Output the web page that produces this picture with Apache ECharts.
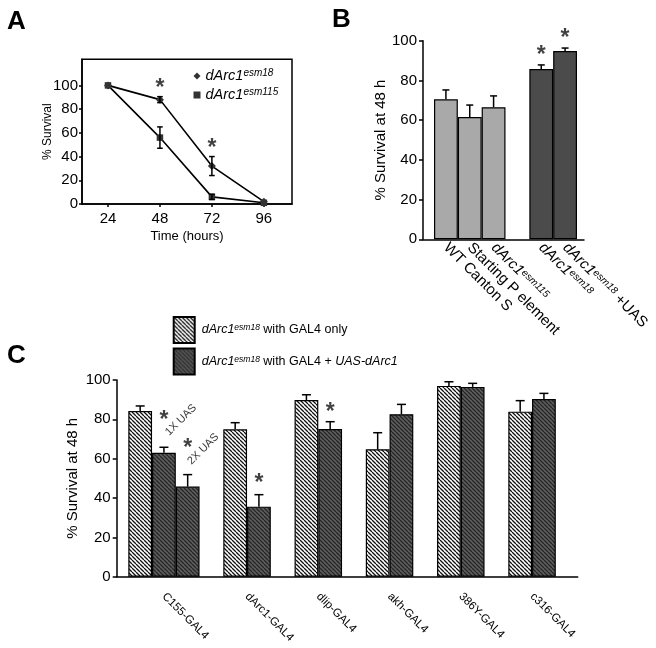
<!DOCTYPE html>
<html>
<head>
<meta charset="utf-8">
<script src="https://cdn.jsdelivr.net/npm/echarts@6/dist/echarts.min.js"></script>
<style>html,body{margin:0;padding:0;background:#fff}#c{width:656px;height:648px}</style>
</head>
<body>
<div id="c"></div>
<script>
// ---------- Panel A data ----------
const aTimes = [24, 48, 72, 96];
const aYTicks = [0, 20, 40, 60, 80, 100];
const aEsm18 = [100, 88, 32, 2];
const aEsm18Err = [0, 2.5, 8, 0];
const aEsm115 = [100, 56, 6, 1];
const aEsm115Err = [0, 9, 2.2, 0];
const aStars = [[48, 102], [72, 51]];

// ---------- Panel B data ----------
const bCats = ['WT Canton S', 'Starting P element', 'dArc1esm115', '', 'dArc1esm18', 'dArc1esm18 +UAS'];
const bValues = [70.5, 61.6, 66.5, null, 85.7, 94.8];
const bErr = [4.7, 6.0, 5.7, null, 2.1, 1.5];
const bTone = ['light', 'light', 'light', null, 'dark', 'dark'];
const bStars = [[4, 95], [5, 103.7]];

// ---------- Panel C data ----------
const cGroups = ['C155-GAL4', 'dArc1-GAL4', 'dlip-GAL4', 'akh-GAL4', '386Y-GAL4', 'c316-GAL4'];
const cOnly = [84.2, 74.9, 89.8, 64.8, 97.0, 83.9];
const cOnlyErr = [2.6, 3.4, 2.7, 8.4, 2.1, 5.6];
const cUAS = [[63.0, 45.8], [35.6], [75.1], [82.6], [96.5], [90.3]];
const cUASErr = [[2.8, 6.1], [6.1], [3.7], [5.0], [1.8], [2.9]];
const cStars = [[1, 82.2], [2, 67.8], [5, 50.0], [8, 86.4]];
const cNotes = [[1, 79.7, '1X UAS'], [2, 64.9, '2X UAS']];

// ---------- build C slots ----------
const cLight = [], cDark = [], cErrData = [], cSlotNames = [], cLabelAt = {};
let slot = 0;
cGroups.forEach((g, gi) => {
  const start = slot;
  cLight[slot] = cOnly[gi]; cDark[slot] = '-'; cErrData.push([slot, cOnly[gi], cOnlyErr[gi]]); slot++;
  cUAS[gi].forEach((v, k) => { cLight[slot] = '-'; cDark[slot] = v; cErrData.push([slot, v, cUASErr[gi][k]]); slot++; });
  const end = slot - 1;
  cLabelAt[start + end + 1] = g;
  if (gi < cGroups.length - 1) { cLight[slot] = '-'; cDark[slot] = '-'; slot++; }
});
const nSlots = slot;
for (let i = 0; i < nSlots; i++) cSlotNames.push('s' + i);
const cHalfNames = [];
for (let i = 0; i <= nSlots * 2; i++) cHalfNames.push('h' + i);

const FONT = '"Liberation Sans", Arial, sans-serif';
const axisLS = { color: '#000', width: 1.5 };

function hatch(bg, fg, size, lw) {
  const c = document.createElement('canvas');
  c.width = c.height = size;
  const g = c.getContext('2d');
  g.fillStyle = bg; g.fillRect(0, 0, size, size);
  g.strokeStyle = fg; g.lineWidth = lw;
  g.beginPath();
  [-size, 0, size].forEach(k => { g.moveTo(k, 0); g.lineTo(k + size, size); });
  g.stroke();
  return c;
}
const patLight = { image: hatch('#ffffff', '#111111', 4, 1.3), repeat: 'repeat' };
const patDark = { image: hatch('#5e5e5e', '#262626', 4, 1.3), repeat: 'repeat' };

function errItem(capHalf, both) {
  return function (params, api) {
    const x = api.value(0), y = api.value(1), e = api.value(2);
    const top = api.coord([x, y + e]);
    const bot = api.coord([x, both ? y - e : y]);
    const style = { stroke: '#000', lineWidth: 1.5 };
    const ch = [
      { type: 'line', shape: { x1: top[0], y1: top[1], x2: bot[0], y2: bot[1] }, style },
      { type: 'line', shape: { x1: top[0] - capHalf, y1: top[1], x2: top[0] + capHalf, y2: top[1] }, style }
    ];
    if (both) ch.push({ type: 'line', shape: { x1: bot[0] - capHalf, y1: bot[1], x2: bot[0] + capHalf, y2: bot[1] }, style });
    return { type: 'group', children: ch };
  };
}

function starSeries(data, xi, yi) {
  return {
    type: 'scatter', xAxisIndex: xi, yAxisIndex: yi, data: data, symbolSize: 1, clip: false,
    itemStyle: { color: 'transparent' }, z: 5, silent: true,
    label: { show: true, position: 'inside', formatter: '*', fontSize: 23, fontWeight: 'bold', color: '#111', fontFamily: FONT, offset: [0, 5.5] }
  };
}

const supRich = (main, sup) => ({
  i: { fontStyle: 'italic', fontSize: main, fontFamily: FONT, color: '#000' },
  s: { fontStyle: 'italic', fontSize: sup, fontFamily: FONT, color: '#000', verticalAlign: 'top' },
  n: { fontSize: main, fontFamily: FONT, color: '#000' }
});

function fmtDarc(v) {
  const m = /^dArc1(esm\d+)(.*)$/.exec(v);
  if (m) return '{i|dArc1}{s|' + m[1] + '}' + (m[2] ? '{n|' + m[2] + '}' : '');
  return v ? '{n|' + v + '}' : '';
}

const aErr = [];
aTimes.forEach((t, i) => {
  if (aEsm18Err[i] > 0) aErr.push([t, aEsm18[i], aEsm18Err[i]]);
  if (aEsm115Err[i] > 0) aErr.push([t, aEsm115[i], aEsm115Err[i]]);
});

const chart = echarts.init(document.getElementById('c'), null, { renderer: 'canvas' });
const option = {
  animation: false,
  backgroundColor: '#fff',
  textStyle: { fontFamily: FONT, color: '#000' },
  title: [
    { text: 'A', left: 7, top: 9, padding: 0, textStyle: { fontSize: 26, fontWeight: 'bold', fontFamily: FONT, color: '#000' } },
    { text: 'B', left: 332, top: 7, padding: 0, textStyle: { fontSize: 26, fontWeight: 'bold', fontFamily: FONT, color: '#000' } },
    { text: 'C', left: 7, top: 343, padding: 0, textStyle: { fontSize: 26, fontWeight: 'bold', fontFamily: FONT, color: '#000' } }
  ],
  legend: [
    {
      data: [{ name: 'esm18', icon: 'diamond' }, { name: 'esm115', icon: 'rect' }],
      orient: 'vertical', left: 193.5, top: 68, itemWidth: 7, itemHeight: 7, itemGap: 3, padding: 0,
      selectedMode: false,
      formatter: n => '{i|dArc1}{s|' + n + '}',
      textStyle: { rich: supRich(14.5, 10), lineHeight: 16 }
    },
    {
      data: [{ name: 'only', icon: 'rect' }, { name: 'uas', icon: 'rect' }],
      orient: 'vertical', left: 172.7, top: 316, itemWidth: 21, itemHeight: 26, itemGap: 3.5, padding: 0,
      selectedMode: false,
      formatter: n => n === 'only'
        ? '{p|}{i|dArc1}{s|esm18}{n| with GAL4 only}'
        : '{p|}{i|dArc1}{s|esm18}{n| with GAL4 + }{i|UAS-dArc1}',
      textStyle: { rich: Object.assign(supRich(12.5, 8.5), { p: { width: 2 } }) }
    }
  ],
  grid: [
    { left: 82, top: 59.3, width: 210, height: 144.7, show: true, borderColor: '#000', borderWidth: 1.5, outerBoundsMode: 'none' },
    { left: 434, top: 40.7, width: 143, height: 198.6, outerBoundsMode: 'none' },
    { left: 423, top: 40.7, width: 161, height: 198.6, outerBoundsMode: 'none' },
    { left: 128.3, top: 380, width: 427.5, height: 196.7, outerBoundsMode: 'none' },
    { left: 116.7, top: 380, width: 461, height: 196.7, outerBoundsMode: 'none' }
  ],
  xAxis: [
    { type: 'value', gridIndex: 0, min: 12, max: 109,
      axisLine: { show: true, onZero: false, lineStyle: axisLS },
      axisTick: { show: true, customValues: aTimes, length: 3, lineStyle: axisLS },
      axisLabel: { customValues: aTimes, fontSize: 15, margin: 7, color: '#000', fontFamily: FONT },
      splitLine: { show: false },
      name: 'Time (hours)', nameLocation: 'middle', nameGap: 26, nameMoveOverlap: false,
      nameTextStyle: { fontSize: 13, color: '#000', fontFamily: FONT } },
    { type: 'category', gridIndex: 1, data: bCats,
      axisLine: { show: false }, axisTick: { show: false },
      axisLabel: { interval: 0, rotate: -45, margin: 6, fontSize: 15, color: '#000', formatter: fmtDarc, rich: supRich(15, 10) },
      splitLine: { show: false } },
    { type: 'value', gridIndex: 2, min: 0, max: 1,
      axisLine: { show: true, onZero: false, lineStyle: axisLS }, axisTick: { show: false }, axisLabel: { show: false }, splitLine: { show: false } },
    { type: 'category', gridIndex: 3, data: cSlotNames, show: false },
    { type: 'category', gridIndex: 3, data: cHalfNames, boundaryGap: false, position: 'bottom', offset: 0,
      axisLine: { show: false }, axisTick: { show: false }, splitLine: { show: false },
      axisLabel: { interval: 0, rotate: -45, margin: 18, fontSize: 11.5, color: '#000', fontFamily: FONT,
        formatter: (v, idx) => cLabelAt[idx] || '' } },
    { type: 'value', gridIndex: 4, min: 0, max: 1,
      axisLine: { show: true, onZero: false, lineStyle: axisLS }, axisTick: { show: false }, axisLabel: { show: false }, splitLine: { show: false } }
  ],
  yAxis: [
    { type: 'value', gridIndex: 0, min: 0, max: 122,
      axisLine: { show: true, lineStyle: axisLS },
      axisTick: { show: true, customValues: aYTicks, length: 3, lineStyle: axisLS },
      axisLabel: { customValues: aYTicks, fontSize: 15, margin: 4, color: '#000', fontFamily: FONT },
      splitLine: { show: false },
      name: '% Survival', nameLocation: 'middle', nameGap: 28, nameMoveOverlap: false,
      nameTextStyle: { fontSize: 12, color: '#000', fontFamily: FONT } },
    { type: 'value', gridIndex: 1, min: 0, max: 100, interval: 20, offset: 11,
      axisLine: { show: true, lineStyle: axisLS },
      axisTick: { show: true, length: 4, lineStyle: axisLS },
      axisLabel: { fontSize: 15, margin: 6, color: '#000', fontFamily: FONT },
      splitLine: { show: false },
      name: '% Survival at 48 h', nameLocation: 'middle', nameGap: 35, nameMoveOverlap: false,
      nameTextStyle: { fontSize: 15, color: '#000', fontFamily: FONT } },
    { type: 'value', gridIndex: 2, show: false, min: 0, max: 1 },
    { type: 'value', gridIndex: 3, min: 0, max: 100, interval: 20, offset: 11.6,
      axisLine: { show: true, lineStyle: axisLS },
      axisTick: { show: true, length: 4, lineStyle: axisLS },
      axisLabel: { fontSize: 15, margin: 6, color: '#000', fontFamily: FONT },
      splitLine: { show: false },
      name: '% Survival at 48 h', nameLocation: 'middle', nameGap: 36, nameMoveOverlap: false,
      nameTextStyle: { fontSize: 15, color: '#000', fontFamily: FONT } },
    { type: 'value', gridIndex: 4, show: false, min: 0, max: 1 }
  ],
  series: [
    // Panel A
    { name: 'esm18', type: 'line', xAxisIndex: 0, yAxisIndex: 0,
      data: aTimes.map((t, i) => [t, aEsm18[i]]),
      symbol: 'diamond', symbolSize: 8, itemStyle: { color: '#333' },
      lineStyle: { color: '#000', width: 1.6 }, z: 3 },
    { name: 'esm115', type: 'line', xAxisIndex: 0, yAxisIndex: 0,
      data: aTimes.map((t, i) => [t, aEsm115[i]]),
      symbol: 'rect', symbolSize: 6.5, itemStyle: { color: '#333' },
      lineStyle: { color: '#000', width: 1.6 }, z: 3 },
    { type: 'custom', xAxisIndex: 0, yAxisIndex: 0, data: aErr, renderItem: errItem(2.8, true), z: 4, silent: true },
    starSeries(aStars, 0, 0),
    // Panel B
    { name: 'B', type: 'bar', xAxisIndex: 1, yAxisIndex: 1, barCategoryGap: 0,
      data: bValues.map((v, i) => v == null ? '-' : { value: v, itemStyle: { color: bTone[i] === 'light' ? '#a9a9a9' : '#4b4b4b' } }),
      itemStyle: { borderColor: '#000', borderWidth: 1.2 }, z: 2 },
    { type: 'custom', xAxisIndex: 1, yAxisIndex: 1,
      data: bValues.map((v, i) => [i, v, bErr[i]]).filter(d => d[1] != null),
      renderItem: errItem(3.5, false), z: 4, silent: true },
    starSeries(bStars, 1, 1),
    // Panel C
    { name: 'only', type: 'bar', stack: 'c', xAxisIndex: 3, yAxisIndex: 3, barCategoryGap: 0, data: cLight,
      itemStyle: { color: patLight, borderColor: '#000', borderWidth: 1.2 }, z: 2 },
    { name: 'uas', type: 'bar', stack: 'c', xAxisIndex: 3, yAxisIndex: 3, barCategoryGap: 0, data: cDark,
      itemStyle: { color: patDark, borderColor: '#000', borderWidth: 1.2 }, z: 2 },
    { type: 'custom', xAxisIndex: 3, yAxisIndex: 3, data: cErrData, renderItem: errItem(4.5, false), z: 4, silent: true },
    starSeries(cStars, 3, 3),
    { type: 'scatter', xAxisIndex: 3, yAxisIndex: 3, symbolSize: 1, itemStyle: { color: 'transparent' }, silent: true, z: 5, clip: false,
      data: cNotes.map(n => ({ value: [n[0], n[1]], label: { formatter: n[2], offset: n[0] === 1 ? [12, 12] : [11, 11] } })),
      label: { show: true, position: 'inside', rotate: 45, fontSize: 11, color: '#000', fontFamily: FONT } }
  ]
};
chart.setOption(option);
</script>
</body>
</html>
